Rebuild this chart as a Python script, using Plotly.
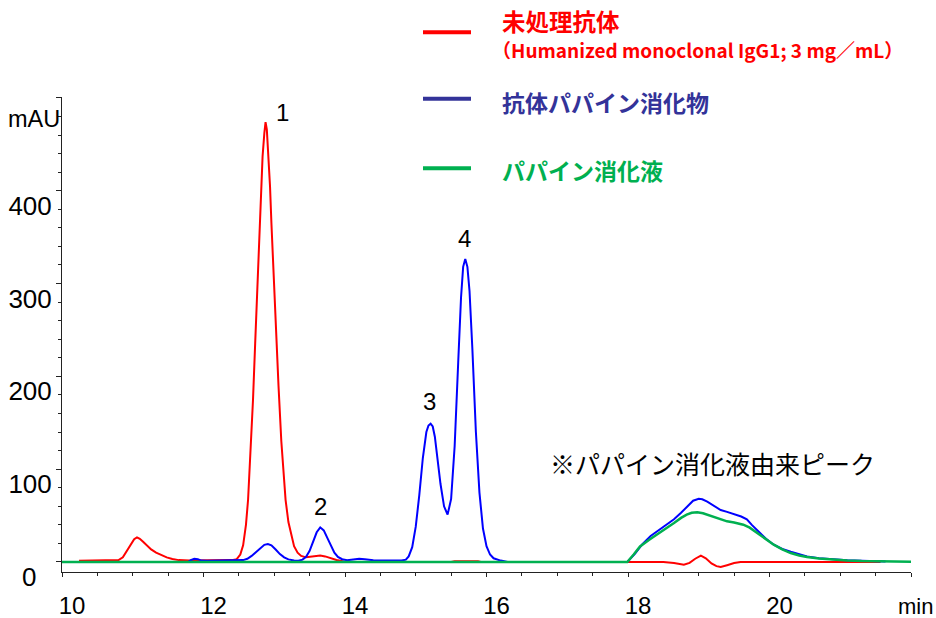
import plotly.graph_objects as go

# ---- chromatogram data (retention time in min, absorbance in mAU) ----
intact_t = [10.24, 10.70, 10.80, 10.86, 10.92, 10.98, 11.02, 11.06, 11.10, 11.15, 11.20, 11.26,
            11.33, 11.40, 11.48, 11.56, 11.65, 11.80, 12.20, 12.40, 12.47, 12.52, 12.56, 12.60,
            12.63, 12.66, 12.70, 12.73, 12.76, 12.78, 12.79, 12.81, 12.835, 12.86, 12.877, 12.895,
            12.92, 12.94, 12.96, 12.98, 13.00, 13.03, 13.06, 13.10, 13.13, 13.16, 13.20, 13.24,
            13.28, 13.33, 13.38, 13.45, 13.52, 13.58, 13.65, 13.72, 13.80, 13.88, 13.95, 14.00,
            15.50, 15.55, 15.88, 15.92, 18.50, 18.65, 18.79, 18.87, 18.95, 19.03, 19.10, 19.18,
            19.25, 19.31, 19.40, 19.50, 19.59, 21.57]
intact_v = [1.2, 1.2, 2.0, 5, 12, 20, 24.5, 26.5, 25, 21.5, 17.5, 13.5,
            10, 7.5, 5, 3.2, 2, 1.5, 1.5, 2, 3, 8, 18, 40,
            67, 108, 175, 235, 290, 329, 355, 400, 437, 462, 474, 466,
            437, 405, 365, 329, 290, 240, 190, 130, 95, 67, 43, 28,
            17, 10, 6.5, 5, 5.5, 6.5, 7, 6, 4, 2.2, 1.2, 0,
            0, 0.8, 0.8, 0, 0, -1, -3, -1, 3.5, 6.8, 4, -1.5,
            -4.5, -5.4, -3.5, -1.2, 0, 0]

digest_t = [10.00, 11.78, 11.82, 11.87, 11.92, 11.97, 12.05, 12.30, 12.50, 12.56, 12.62, 12.68,
            12.74, 12.80, 12.86, 12.91, 12.96, 13.02, 13.08, 13.14, 13.20, 13.28, 13.34, 13.40,
            13.45, 13.50, 13.55, 13.60, 13.65, 13.70, 13.75, 13.80, 13.85, 13.90, 13.96, 14.03,
            14.12, 14.20, 14.28, 14.40, 14.60, 14.80, 14.86, 14.90, 14.95, 15.00, 15.05, 15.10,
            15.15, 15.18, 15.21, 15.24, 15.27, 15.30, 15.35, 15.40, 15.45, 15.50, 15.55, 15.60,
            15.64, 15.67, 15.70, 15.73, 15.76, 15.80, 15.85, 15.90, 15.95, 16.00, 16.05, 16.10,
            16.20, 16.30, 17.99, 18.10, 18.20, 18.32, 18.45, 18.55, 18.65, 18.75, 18.84, 18.92,
            19.00, 19.05, 19.12, 19.20, 19.31, 19.40, 19.49, 19.60, 19.68, 19.75, 19.87, 19.95,
            20.06, 20.18, 20.30, 20.42, 20.53, 20.70, 20.90, 21.10, 21.30, 21.50, 21.64]
digest_v = [0, 0, 2, 3.5, 3, 1.5, 1.2, 1.4, 1.5, 2, 3.5, 6.5,
            10.5, 15, 18.5, 19.4, 18, 13.5, 8.5, 5, 2.8, 1.5, 1.4, 2.5,
            5.5, 12, 22, 32, 37.3, 34, 26, 17, 10, 5.5, 3, 2,
            2.8, 3.5, 3, 1.8, 1.5, 1.6, 2.5, 6, 16, 38, 72, 112,
            140, 147, 149, 146, 135, 116, 84, 60, 51, 68, 125, 215,
            285, 318, 326.5, 318, 292, 230, 140, 75, 36, 17, 8, 4,
            1.5, 0, 0, 9, 19, 28, 35, 40, 46, 53, 60, 66,
            68, 67.5, 65, 61, 56, 54, 52, 49, 46, 40, 31, 25,
            18.6, 14, 11, 8, 6, 4, 2.5, 1.8, 1.2, 1.0, 0.5]

papain_t = [10.00, 17.99, 18.08, 18.17, 18.30, 18.41, 18.53, 18.65, 18.75, 18.83, 18.90, 18.98,
            19.06, 19.14, 19.21, 19.30, 19.40, 19.50, 19.63, 19.72, 19.82, 19.94, 20.06, 20.18,
            20.30, 20.42, 20.53, 20.70, 20.90, 21.10, 21.30, 21.47, 21.70, 22.00]
papain_v = [0, 0, 8, 16.8, 24, 29.4, 35.5, 42, 47.5, 51, 53, 53.5,
            52.5, 50.5, 48.5, 46, 43.8, 42.5, 40.2, 37, 31.3, 25, 18.6, 13.5,
            9.6, 7, 5.3, 3.8, 2.5, 1.7, 1.0, 0.7, 0.4, 0.3]

# peak numbers: (label, time, mAU)
peak_labels = ["1", "2", "3", "4"]
peak_label_t = [13.11, 13.65, 15.19, 15.69]
peak_label_v = [484, 60, 173, 349]

x_ticks = [10, 12, 14, 16, 18, 20, 22]
x_ticktext = ["10", "12", "14", "16", "18", "20", ""]
y_ticks = [0, 100, 200, 300, 400, 500]
y_ticktext = ["", "100", "200", "300", "400", ""]

RED = "#FF0000"
BLUE = "#0000FF"
NAVY = "#333399"
GREEN = "#00B050"
LATIN = "Liberation Sans, Arial, sans-serif"
JP = "Noto Sans CJK JP, sans-serif"

W, H = 936, 618
ML, MR, MT, MB = 62, 25, 97, 46
PW, PH = W - ML - MR, H - MT - MB


def px(x):
    return (x - ML) / PW


def py(y):
    return (H - MB - y) / PH


fig = go.Figure()
fig.add_trace(go.Scatter(x=intact_t, y=intact_v, mode="lines",
                         line=dict(color=RED, width=2), name="未処理抗体"))
fig.add_trace(go.Scatter(x=digest_t, y=digest_v, mode="lines",
                         line=dict(color=BLUE, width=2), name="抗体パパイン消化物"))
fig.add_trace(go.Scatter(x=papain_t, y=papain_v, mode="lines",
                         line=dict(color=GREEN, width=2.5), name="パパイン消化液"))

annotations = []
for lab, t, v in zip(peak_labels, peak_label_t, peak_label_v):
    annotations.append(dict(x=t, y=v, xref="x", yref="y", text=lab, showarrow=False,
                            font=dict(family=LATIN, size=24, color="black"),
                            xanchor="center", yanchor="middle"))

annotations.append(dict(x=19.19, y=106.7, xref="x", yref="y",
                        text="※パパイン消化液由来ピーク", showarrow=False,
                        font=dict(family=JP, size=25, color="black"),
                        xanchor="center", yanchor="middle"))

# axis captions
annotations.append(dict(x=px(34), y=py(119), xref="paper", yref="paper", text="mAU",
                        showarrow=False, font=dict(family=LATIN, size=23.5, color="black"),
                        xanchor="center", yanchor="middle"))
annotations.append(dict(x=px(28.5), y=py(577), xref="paper", yref="paper", text="0",
                        showarrow=False, font=dict(family=LATIN, size=26, color="black"),
                        xanchor="center", yanchor="middle"))
annotations.append(dict(x=px(935), y=py(606), xref="paper", yref="paper", text="min",
                        showarrow=False, font=dict(family=LATIN, size=22, color="black"),
                        xanchor="right", yanchor="middle"))

# legend block
legend_items = [
    ("<b>未処理抗体</b>", RED, 500, 20.7, 23.5),
    ("<b>（Humanized monoclonal IgG1; 3 mg／mL）</b>", RED, 490, 50, 19),
    ("<b>抗体パパイン消化物</b>", NAVY, 500, 102.3, 23),
    ("<b>パパイン消化液</b>", GREEN, 500, 170, 23),
]
for txt, col, xl, yc, fs in legend_items:
    annotations.append(dict(x=px(xl), y=py(yc), xref="paper", yref="paper", text=txt,
                            showarrow=False, font=dict(family=JP, size=fs, color=col),
                            xanchor="left", yanchor="middle"))

shapes = []
for col, yc in [(RED, 32.3), (NAVY, 98.7), (GREEN, 168.3)]:
    shapes.append(dict(type="line", xref="paper", yref="paper",
                       x0=px(423), x1=px(471), y0=py(yc), y1=py(yc),
                       line=dict(color=col, width=4)))

fig.update_layout(
    width=W, height=H,
    margin=dict(l=ML, r=MR, t=MT, b=MB),
    paper_bgcolor="white", plot_bgcolor="white",
    showlegend=False,
    annotations=annotations,
    shapes=shapes,
    xaxis=dict(range=[10, 22], tickvals=x_ticks, ticktext=x_ticktext, automargin=False,
               showline=True, linecolor="#222222", linewidth=1, mirror=False,
               ticks="outside", ticklen=4, tickcolor="#222222",
               minor=dict(dtick=0.5, tick0=10, ticks="outside", ticklen=3, tickcolor="#222222"),
               showgrid=False, zeroline=False,
               tickfont=dict(family=LATIN, size=24, color="black"),
               ticklabelshift=10, ticklabelstandoff=8),
    yaxis=dict(range=[-10.8, 501], tickvals=y_ticks, ticktext=y_ticktext, automargin=False,
               showline=True, linecolor="#222222", linewidth=1,
               ticks="outside", ticklen=5, tickcolor="#222222",
               minor=dict(dtick=20, tick0=0, ticks="outside", ticklen=3, tickcolor="#222222"),
               showgrid=False, zeroline=False,
               tickfont=dict(family=LATIN, size=26, color="black"),
               ticklabelshift=15, ticklabelstandoff=-1),
)

fig.write_html("out.html")
